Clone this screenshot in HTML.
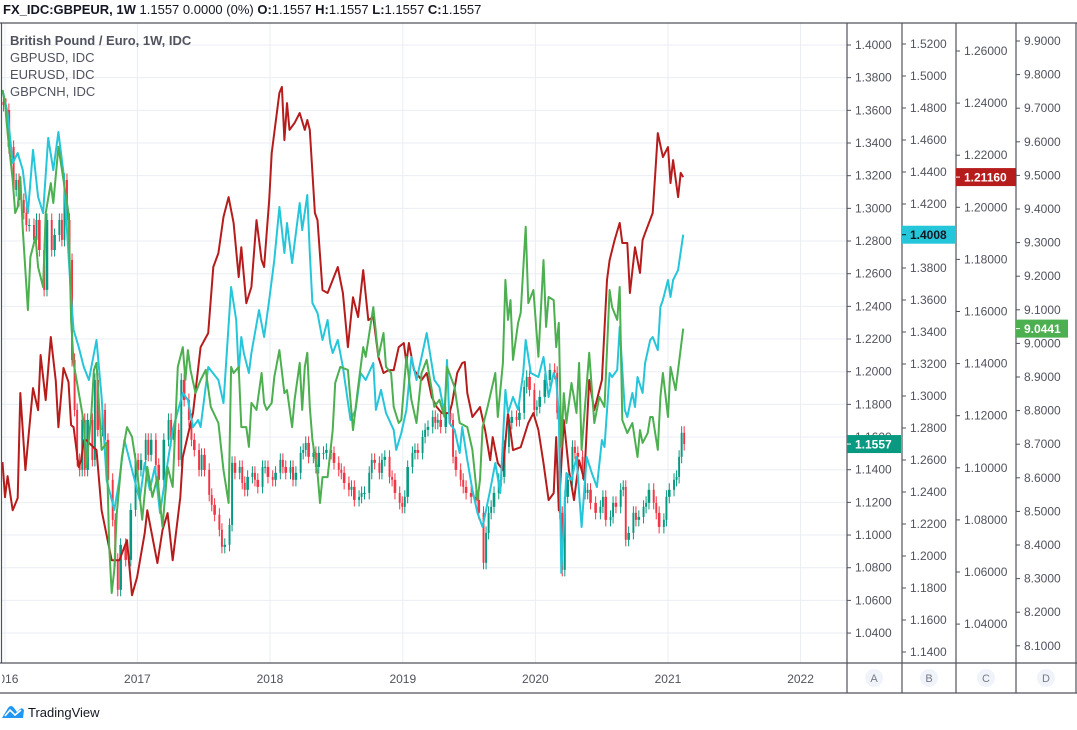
<!DOCTYPE html>
<html><head><meta charset="utf-8">
<style>
html,body{margin:0;padding:0;background:#fff;}
body{width:1077px;height:725px;overflow:hidden;font-family:"Liberation Sans",sans-serif;}
svg text{font-family:"Liberation Sans",sans-serif;}
</style></head>
<body>
<svg id="chart" width="1077" height="725" viewBox="0 0 1077 725" xmlns="http://www.w3.org/2000/svg">
  <text x="3" y="14" font-size="13" fill="#131722"><tspan font-weight="bold">FX_IDC:GBPEUR, 1W</tspan> 1.1557 0.0000 (0%) <tspan font-weight="bold">O:</tspan>1.1557 <tspan font-weight="bold">H:</tspan>1.1557 <tspan font-weight="bold">L:</tspan>1.1557 <tspan font-weight="bold">C:</tspan>1.1557</text>
  <g id="grid"></g>
  <defs><clipPath id="plotclip"><rect x="2" y="23" width="845" height="640"/></clipPath></defs>
  <g id="series" clip-path="url(#plotclip)"></g>
  <g id="axes"></g>
  <g font-size="13">
    <text x="10" y="45" fill="#50535e" font-weight="bold">British Pound / Euro, 1W, IDC</text>
    <text x="10" y="62" fill="#50535e">GBPUSD, IDC</text>
    <text x="10" y="79" fill="#50535e">EURUSD, IDC</text>
    <text x="10" y="96" fill="#50535e">GBPCNH, IDC</text>
  </g>
  <g>
    <path d="M2 718 L8 708 Q11 704 14 708 L17 712 L20 709 Q22 707 24 710 L23 718 Z" fill="#2196f3"/>
    <path d="M5 716 L10 710 L15 715 L21 710" stroke="#fff" stroke-width="1.6" fill="none"/>
    <text x="28" y="717" font-size="13" fill="#131722">TradingView</text>
  </g>
</svg>
<script>
// ---- data (week index from 2015-12-28) ----
const yearLabels = ["2016","2017","2018","2019","2020","2021","2022"];
const yearWeeks = [1.0, 53.1, 105.3, 157.6, 209.8, 262.0, 314.2];
const ticksA = [1.40,1.38,1.36,1.34,1.32,1.30,1.28,1.26,1.24,1.22,1.20,1.18,1.16,1.14,1.12,1.10,1.08,1.06,1.04];
const ticksB = [1.52,1.50,1.48,1.46,1.44,1.42,1.40,1.38,1.36,1.34,1.32,1.30,1.28,1.26,1.24,1.22,1.20,1.18,1.16,1.14];
const ticksC = [1.26,1.24,1.22,1.20,1.18,1.16,1.14,1.12,1.10,1.08,1.06,1.04];
const ticksD = [9.9,9.8,9.7,9.6,9.5,9.4,9.3,9.2,9.1,9.0,8.9,8.8,8.7,8.6,8.5,8.4,8.3,8.2,8.1];

const eurusdWeeks = [0,1,2,4,6,7,9,12,14,15,17,19,21,22,24,26,27,28,30,31,32,33,37,39,43,46,49,51,53,56,57,61,63,65,67,70,71,75,78,81,83,85,87,89,91,93,94,96,98,100,102,103,105,106,109,110,111,112,113,115,117,119,120,121,123,124,126,128,130,132,133,134,136,138,140,142,144,146,148,150,152,154,156,158,159,160,162,165,167,169,171,173,176,177,179,181,182,183,185,188,190,192,193,195,197,199,201,204,207,209,211,213,215,217,218,219,221,223,225,227,229,231,233,236,238,239,241,243,244,246,247,249,251,252,253,256,257,258,260,262,263,264,266,267,268];
const eurusdValues = [1.1022,1.0887,1.0968,1.0837,1.0884,1.1287,1.0991,1.1306,1.1221,1.1433,1.1260,1.1502,1.1333,1.1156,1.1383,1.1329,1.1164,1.1156,1.1003,1.1029,1.1106,1.1106,1.1068,1.0837,1.0645,1.0645,1.0722,1.0511,1.0580,1.0749,1.0837,1.0634,1.0761,1.0826,1.0645,1.0887,1.1041,1.1210,1.1463,1.1517,1.1771,1.1824,1.1963,1.2039,1.1940,1.1732,1.1847,1.1632,1.1694,1.1951,1.1797,1.1771,1.2028,1.2208,1.2439,1.2462,1.2258,1.2400,1.2297,1.2324,1.2362,1.2297,1.2335,1.2297,1.1978,1.1951,1.1682,1.1671,1.1721,1.1771,1.1721,1.1671,1.1463,1.1655,1.1579,1.1759,1.1567,1.1579,1.1425,1.1364,1.1375,1.1375,1.1463,1.1479,1.1402,1.1479,1.1375,1.1337,1.1364,1.1271,1.1233,1.1210,1.1210,1.1248,1.1364,1.1402,1.1406,1.1287,1.1195,1.1233,1.1145,1.1029,1.1118,1.1018,1.0991,1.1210,1.1068,1.1079,1.1172,1.1210,1.1145,1.1018,1.0876,1.0903,1.1118,1.0837,1.1183,1.0991,1.0876,1.1029,1.0953,1.1337,1.1221,1.1337,1.1721,1.1797,1.1874,1.1940,1.1863,1.1863,1.1671,1.1847,1.1748,1.1874,1.1901,1.1978,1.2132,1.2285,1.2193,1.2231,1.2093,1.2181,1.2039,1.2132,1.2116];

const gbpusdWeeks = [0,2,4,6,8,10,12,14,16,18,20,22,24,27,28,30,32,34,37,39,41,44,46,48,52,54,56,58,60,62,65,67,71,73,75,77,78,81,85,87,90,92,93,94,95,97,98,101,103,105,107,109,111,112,114,117,118,120,121,122,124,126,128,129,130,132,134,137,139,141,143,146,147,149,151,154,155,157,159,161,163,165,167,170,172,174,175,176,178,180,181,183,185,187,189,192,194,196,198,199,201,203,205,206,208,211,213,215,217,218,219,220,222,224,226,228,230,232,234,236,237,239,240,242,243,245,246,248,249,250,252,253,255,256,258,259,260,262,263,264,266,268];
const gbpusdValues = [1.4913,1.4769,1.4456,1.4519,1.4412,1.4144,1.4538,1.4244,1.4144,1.4613,1.4412,1.4650,1.4394,1.3619,1.3413,1.3306,1.3181,1.3100,1.3350,1.2994,1.2475,1.2288,1.2475,1.2725,1.2475,1.2350,1.2581,1.2413,1.2556,1.2269,1.2581,1.2788,1.3019,1.2975,1.2806,1.2850,1.2806,1.3181,1.3100,1.2956,1.3681,1.3475,1.3144,1.3369,1.3269,1.3144,1.3269,1.3537,1.3369,1.3600,1.3850,1.4181,1.3894,1.4081,1.3831,1.4206,1.4037,1.4256,1.3894,1.3581,1.3519,1.3350,1.3475,1.3331,1.3269,1.3350,1.3181,1.2850,1.2913,1.3144,1.3100,1.3206,1.2913,1.3038,1.2894,1.2788,1.2663,1.2769,1.2913,1.3244,1.3100,1.3244,1.3394,1.3100,1.3056,1.2894,1.3225,1.2831,1.2788,1.2644,1.2806,1.2600,1.2413,1.2269,1.2181,1.2413,1.2581,1.2394,1.3038,1.2894,1.2994,1.2913,1.3144,1.3350,1.3144,1.3119,1.3244,1.2994,1.3144,1.3100,1.2894,1.1894,1.2519,1.2475,1.2619,1.2181,1.2619,1.2519,1.2431,1.2725,1.2681,1.3144,1.3119,1.3163,1.3431,1.2913,1.2869,1.3019,1.2931,1.3119,1.3019,1.3206,1.3350,1.3369,1.3287,1.3556,1.3600,1.3725,1.3619,1.3725,1.3788,1.4008];

const gbpcnhWeeks = [0,1,2,4,5,6,7,8,10,11,13,14,16,17,19,20,22,24,26,27,28,31,32,33,35,36,37,39,41,42,43,44,45,47,49,51,53,55,57,59,61,63,65,67,69,71,72,73,74,76,78,80,82,85,87,89,90,91,93,94,96,97,98,100,102,103,104,106,107,109,111,112,114,115,117,118,119,120,121,122,124,125,126,128,130,131,133,136,138,140,142,143,146,148,150,151,153,154,156,157,159,161,163,165,167,169,170,172,174,175,178,180,183,185,187,188,189,191,194,195,197,198,199,200,201,203,204,206,207,209,211,213,214,215,217,218,219,220,221,222,224,226,227,228,231,233,235,237,239,240,242,243,244,246,248,250,251,252,254,255,256,258,259,260,262,263,265,266,268];
const gbpcnhValues = [9.754,9.716,9.626,9.486,9.388,9.406,9.495,9.338,9.099,9.257,9.317,9.227,9.168,9.388,9.477,9.418,9.585,9.486,9.388,9.070,8.942,8.811,8.763,8.632,8.793,8.921,8.942,8.683,8.704,8.394,8.257,8.326,8.495,8.662,8.751,8.722,8.623,8.475,8.632,8.543,8.602,8.454,8.632,8.573,8.930,8.989,8.891,8.980,8.921,8.852,8.891,8.921,8.811,8.763,8.623,8.525,8.930,8.912,8.930,8.751,8.751,8.692,8.823,8.802,8.912,8.823,8.802,8.823,8.900,8.980,8.852,8.861,8.751,8.832,8.942,8.802,8.930,8.972,8.811,8.713,8.614,8.525,8.602,8.602,8.742,8.882,8.930,8.921,8.742,8.870,8.989,8.960,9.108,8.960,9.031,8.930,8.912,8.811,8.763,8.772,8.960,8.832,8.763,8.912,8.951,8.861,8.811,8.832,8.781,8.930,8.870,8.763,8.751,8.683,8.534,8.594,8.751,8.811,8.912,8.781,8.942,9.189,9.070,9.129,8.951,9.061,9.091,9.347,9.120,9.159,8.960,9.248,9.049,9.138,9.129,8.989,9.061,8.692,8.852,8.763,8.882,8.793,8.942,8.683,8.972,8.763,8.841,8.811,9.159,9.108,9.070,9.168,8.772,8.733,8.763,8.662,8.742,8.704,8.733,8.781,8.781,8.683,8.841,8.912,8.781,8.930,8.861,8.921,9.044];

const gbpeurWeeks = [0,1,2,4,5,6,8,9,10,12,13,14,16,17,19,20,22,23,24,25,26,27,28,29,30,31,32,33,35,36,37,39,40,41,43,44,45,46,48,50,52,53,54,56,57,58,60,61,63,65,66,67,69,70,71,73,74,75,77,78,79,81,82,83,85,86,87,89,90,91,93,94,95,96,98,99,100,102,103,104,106,107,109,110,111,113,114,115,117,118,119,120,122,123,124,126,127,129,130,132,133,134,136,137,138,140,141,142,144,145,146,148,149,150,152,153,154,156,157,158,159,161,162,163,165,166,167,169,170,171,172,174,176,177,178,180,181,182,184,186,187,189,190,191,192,193,195,196,197,199,200,202,203,205,206,207,209,210,211,213,215,217,218,219,220,221,222,224,225,226,228,229,230,231,233,235,236,237,239,240,241,243,244,245,246,248,249,250,252,253,254,256,257,258,260,261,262,264,265,266,267,268];
const gbpeurCloses = [1.3633,1.3602,1.3376,1.3113,1.3174,1.3051,1.2972,1.2898,1.2898,1.2807,1.2929,1.2745,1.2501,1.2929,1.2745,1.2837,1.2929,1.2807,1.3174,1.2929,1.2684,1.2072,1.1766,1.1460,1.1399,1.1705,1.1399,1.1705,1.1460,1.1950,1.1644,1.1766,1.1583,1.1338,1.1093,1.0848,1.0665,1.0940,1.0848,1.1154,1.1460,1.1399,1.1460,1.1583,1.1491,1.1583,1.1430,1.1338,1.1583,1.1705,1.1583,1.1644,1.1460,1.1950,1.1827,1.1705,1.1583,1.1521,1.1399,1.1491,1.1399,1.1246,1.1185,1.1124,1.1032,1.0928,1.0940,1.1062,1.1442,1.1381,1.1417,1.1319,1.1277,1.1356,1.1381,1.1338,1.1295,1.1417,1.1417,1.1356,1.1338,1.1381,1.1460,1.1417,1.1381,1.1417,1.1338,1.1381,1.1503,1.1521,1.1564,1.1479,1.1503,1.1417,1.1503,1.1503,1.1521,1.1503,1.1442,1.1399,1.1381,1.1319,1.1277,1.1295,1.1215,1.1234,1.1258,1.1258,1.1381,1.1460,1.1442,1.1381,1.1460,1.1479,1.1356,1.1338,1.1258,1.1197,1.1173,1.1234,1.1417,1.1503,1.1521,1.1503,1.1601,1.1644,1.1662,1.1723,1.1687,1.1705,1.1662,1.1748,1.1705,1.1479,1.1399,1.1338,1.1295,1.1258,1.1234,1.1215,1.1136,1.0830,1.1013,1.1136,1.1173,1.1258,1.1338,1.1356,1.1540,1.1687,1.1723,1.1705,1.1748,1.1907,1.1968,1.1889,1.1766,1.1785,1.1846,1.1950,1.2011,1.1993,1.1748,1.1136,1.0787,1.1234,1.1338,1.1540,1.1503,1.1479,1.1381,1.1258,1.1277,1.1197,1.1136,1.1173,1.1234,1.1093,1.1111,1.1197,1.1173,1.1277,1.1295,1.0971,1.1013,1.1136,1.1093,1.1111,1.1173,1.1197,1.1277,1.1197,1.1136,1.1050,1.1093,1.1234,1.1277,1.1338,1.1356,1.1479,1.1626,1.1557];

// ---- axis functions ----
const xOf = w => 2.5 + w * 2.54;
const yA = v => 45 + (1.40 - v) / 0.02 * 32.67;
const yB = v => 44 + (1.52 - v) / 0.02 * 32;
const yC = v => 51 + (1.26 - v) / 0.02 * 52.1;
const yD = v => 41 + (9.9 - v) / 0.1 * 33.6;

const NS = "http://www.w3.org/2000/svg";
function mk(tag, attrs, parent) {
  const e = document.createElementNS(NS, tag);
  for (const k in attrs) e.setAttribute(k, attrs[k]);
  parent.appendChild(e);
  return e;
}
const grid = document.getElementById('grid');
const series = document.getElementById('series');
const axes = document.getElementById('axes');

// grid lines
ticksA.forEach(v => {
  const l = mk('line', {x1: 2, x2: 847, y1: yA(v), y2: yA(v), stroke: '#e9eef3', 'stroke-width': 1}, grid);
  
  
});
yearWeeks.forEach(w => {
  const l = mk('line', {x1: xOf(w), x2: xOf(w), y1: 23, y2: 663, stroke: '#e9eef3', 'stroke-width': 1}, grid);
  
  
});

// candles
const candleG = mk('g', {}, series);


for (let i = 0; i < gbpeurCloses.length; i++) {
  const c = gbpeurCloses[i];
  const o = i > 0 ? gbpeurCloses[i - 1] : c + 0.002;
  const up = c >= o;
  const col = up ? '#089981' : '#f23645';
  const x0 = xOf(gbpeurWeeks[i]);
  const x1 = i < gbpeurWeeks.length - 1 ? xOf(gbpeurWeeks[i + 1]) : x0 + 2.5;
  const bw = Math.max(1.6, Math.min(x1 - x0 - 0.6, 2.6));
  const hi = Math.max(o, c) + 0.004, lo = Math.min(o, c) - 0.004;
  const wk = mk('line', {x1: x0 + bw / 2, x2: x0 + bw / 2, y1: yA(hi), y2: yA(lo), stroke: col, 'stroke-width': 1}, candleG);
  
  
  const top = yA(Math.max(o, c)), bot = yA(Math.min(o, c));
  const b = mk('rect', {x: x0, y: top, width: bw, height: Math.max(1, bot - top), fill: col}, candleG);
  
  
}

function drawLine(weeks, vals, yf, color, name) {
  const d = weeks.map((w, i) => (i ? 'L' : 'M') + xOf(w).toFixed(1) + ' ' + yf(vals[i]).toFixed(1)).join(' ');
  const p = mk('path', {d: d, fill: 'none', stroke: color, 'stroke-width': 2, 'stroke-linejoin': 'round'}, series);
  
  
}
drawLine(eurusdWeeks, eurusdValues, yC, '#b71c1c', 'eurusd-line');
drawLine(gbpusdWeeks, gbpusdValues, yB, '#26c6da', 'gbpusd-line');
drawLine(gbpcnhWeeks, gbpcnhValues, yD, '#4caf50', 'gbpcnh-line');

// frame
const frameCol = '#50535e';
[[0,23,1077,23],[847,23,847,693],[902,23,902,693],[956,23,956,693],[1016,23,1016,693],[0,663,1077,663],[0,693,1077,693],[1.5,23,1.5,663],[1076,23,1076,693]].forEach(a => {
  const l = mk('line', {x1: a[0], y1: a[1], x2: a[2], y2: a[3], stroke: frameCol, 'stroke-width': 1.2}, axes);
  
  
});

function axisLabels(ticks, yf, x0, fmt, name) {
  ticks.forEach(v => {
    const y = yf(v);
    mk('line', {x1: x0, x2: x0 + 4, y1: y, y2: y, stroke: frameCol, 'stroke-width': 1}, axes);
    const t = mk('text', {x: x0 + 8, y: y + 4, 'font-size': 12, fill: '#50535e'}, axes);
    t.textContent = v.toFixed(fmt);
    
    
  });
}
axisLabels(ticksA, yA, 847, 4, 'axis-a-tick-label');
axisLabels(ticksB, yB, 902, 4, 'axis-b-tick-label');
axisLabels(ticksC, yC, 956, 5, 'axis-c-tick-label');
axisLabels(ticksD, yD, 1016, 4, 'axis-d-tick-label');

// year labels
const timeClip = mk('clipPath', {id: 'tclip'}, document.querySelector('defs'));
mk('rect', {x: 2, y: 664, width: 845, height: 28}, timeClip);
const tg = mk('g', {'clip-path': 'url(#tclip)'}, axes);
yearLabels.forEach((lab, i) => {
  const t = mk('text', {x: xOf(yearWeeks[i]), y: 683, 'font-size': 12, fill: '#50535e', 'text-anchor': 'middle'}, tg);
  t.textContent = lab;
  
  
});

// pane letters
[['A', 874], ['B', 929], ['C', 986], ['D', 1046]].forEach(p => {
  const c = mk('circle', {cx: p[1], cy: 678, r: 9, fill: '#f0f3fa'}, axes);
  
  
  const t = mk('text', {x: p[1], y: 682, 'font-size': 11, fill: '#787b86', 'text-anchor': 'middle'}, axes);
  t.textContent = p[0];
});

// last price labels
function priceLabel(x, w, y, bg, fg, txt, name) {
  const g = mk('g', {}, axes);
  
  
  mk('rect', {x: x, y: y - 9, width: w, height: 18, fill: bg}, g);
  mk('line', {x1: x, x2: x + 4, y1: y, y2: y, stroke: fg, 'stroke-width': 1}, g);
  const t = mk('text', {x: x + 8, y: y + 4.5, 'font-size': 12, 'font-weight': 'bold', fill: fg}, g);
  t.textContent = txt;
}
priceLabel(847, 54, yA(gbpeurCloses[gbpeurCloses.length - 1]), '#089981', '#ffffff', gbpeurCloses[gbpeurCloses.length - 1].toFixed(4), 'gbpeur-last-price-label');
priceLabel(902, 54, yB(gbpusdValues[gbpusdValues.length - 1]), '#26c6da', '#131722', gbpusdValues[gbpusdValues.length - 1].toFixed(4), 'gbpusd-last-price-label');
priceLabel(956, 60, yC(eurusdValues[eurusdValues.length - 1]), '#b71c1c', '#ffffff', eurusdValues[eurusdValues.length - 1].toFixed(5), 'eurusd-last-price-label');
priceLabel(1016, 52, yD(gbpcnhValues[gbpcnhValues.length - 1]), '#4caf50', '#ffffff', '9.0441', 'gbpcnh-last-price-label');
</script>
</body></html>
